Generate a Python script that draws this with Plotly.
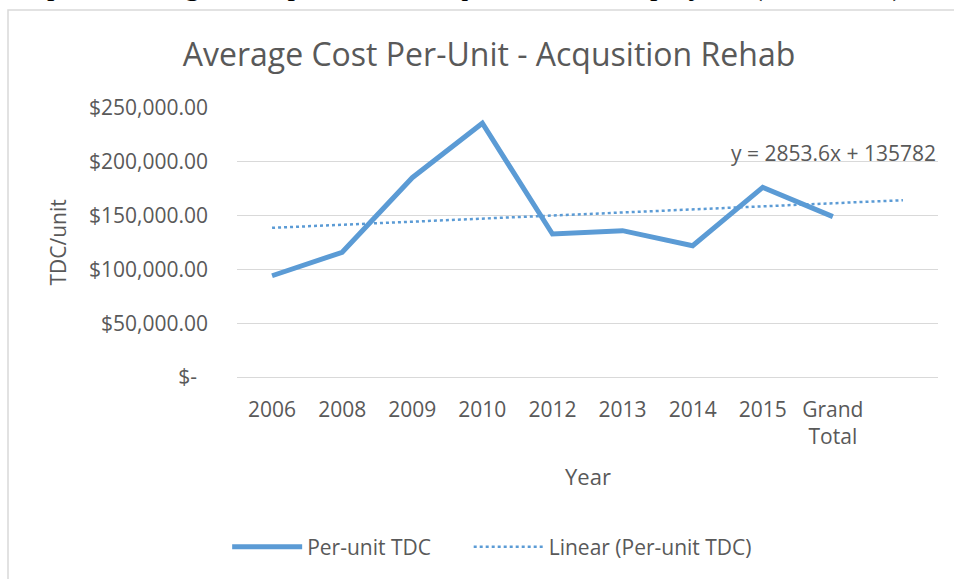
import plotly.graph_objects as go

years = ['2006', '2008', '2009', '2010', '2012', '2013', '2014', '2015', 'Grand<br>Total']
per_unit_tdc = [94100, 115900, 185200, 235800, 132900, 136000, 122000, 176300, 149000]

# Excel trendline as printed on the chart, forecast forward one period
trend_slope = 2853.6
trend_intercept = 135782
forecast_periods = 1

y_ticks = [0, 50000, 100000, 150000, 200000, 250000]
y_tick_labels = ['$-\u00a0\u00a0', '$50,000.00', '$100,000.00', '$150,000.00',
                 '$200,000.00', '$250,000.00']

blue = '#5B9BD5'
grey_text = '#595959'
font_name = 'Open Sans'
pad = '\u00a0' * 6

x_pos = list(range(1, len(years) + 1))
trend_x = list(range(1, len(years) + forecast_periods + 1))
trend_y = [trend_slope * x + trend_intercept for x in trend_x]

fig = go.Figure()
fig.add_trace(go.Scatter(
    x=x_pos, y=per_unit_tdc,
    mode='lines',
    line=dict(color=blue, width=5),
    name='Per-unit TDC' + pad))
fig.add_trace(go.Scatter(
    x=trend_x, y=trend_y,
    mode='lines',
    line=dict(color=blue, width=2.5, dash='dot'),
    name='Linear (Per-unit TDC)'))

fig.update_layout(
    width=954, height=579,
    margin=dict(l=237, r=16, t=108, b=202),
    paper_bgcolor='white',
    plot_bgcolor='white',
    font=dict(family=font_name, size=21, color=grey_text),
    title=dict(text='Average Cost Per-Unit - Acqusition Rehab',
               x=489 / 954, xanchor='center',
               y=1 - 55 / 579, yanchor='middle',
               font=dict(size=32, color=grey_text)),
    xaxis=dict(range=[0.5, len(years) + forecast_periods + 0.5],
               tickvals=x_pos, ticktext=years,
               showgrid=False, zeroline=False, showline=False,
               ticks='', ticklabelstandoff=18,
               tickfont=dict(size=21, color=grey_text)),
    yaxis=dict(range=[0, 250000],
               tickvals=y_ticks, ticktext=y_tick_labels,
               showgrid=True, gridcolor='#d9d9d9', gridwidth=1,
               zeroline=True, zerolinecolor='#d9d9d9', zerolinewidth=1,
               showline=False, ticks='', ticklabelstandoff=28,
               tickfont=dict(size=21, color=grey_text)),
    showlegend=True,
    legend=dict(orientation='h', x=0.364, xanchor='center',
                y=-0.632, yanchor='middle',
                itemwidth=70, font=dict(size=21, color=grey_text),
                bgcolor='rgba(0,0,0,0)'),
)

# axis titles and trendline label
fig.add_annotation(text='TDC/unit', xref='paper', yref='paper',
                   x=(57 - 237) / 701, xanchor='center',
                   y=0.5, yanchor='middle', textangle=-90,
                   showarrow=False, font=dict(size=21, color=grey_text))
fig.add_annotation(text='Year', xref='paper', yref='paper',
                   x=(588 - 237) / 701, xanchor='center',
                   y=(377 - 476) / 269, yanchor='middle',
                   showarrow=False, font=dict(size=22, color=grey_text))
fig.add_annotation(text='y = 2853.6x + 135782', xref='paper', yref='paper',
                   x=1.0, xanchor='right', y=(377 - 153) / 269, yanchor='middle',
                   showarrow=False, font=dict(size=21, color=grey_text))

# caption of the surrounding document, cut off by the top of the picture
fig.add_annotation(text='Graph 4: Average TDC per unit of Acquisition Rehab projects (2006-2015)',
                   xref='paper', yref='paper',
                   x=(0 - 237) / 701, xanchor='left',
                   y=(377 - 4) / 269, yanchor='bottom',
                   showarrow=False,
                   font=dict(family='Liberation Serif', size=30, color='black'))

# chart area border
fig.add_shape(type='rect', xref='paper', yref='paper',
              x0=(8 - 237) / 701, x1=1.2,
              y0=-1.2, y1=(377 - 10) / 269,
              line=dict(color='#d9d9d9', width=1.5), layer='below')

fig.write_html('out.html', config={'displayModeBar': False},
               post_script="document.body.style.margin='0';")
